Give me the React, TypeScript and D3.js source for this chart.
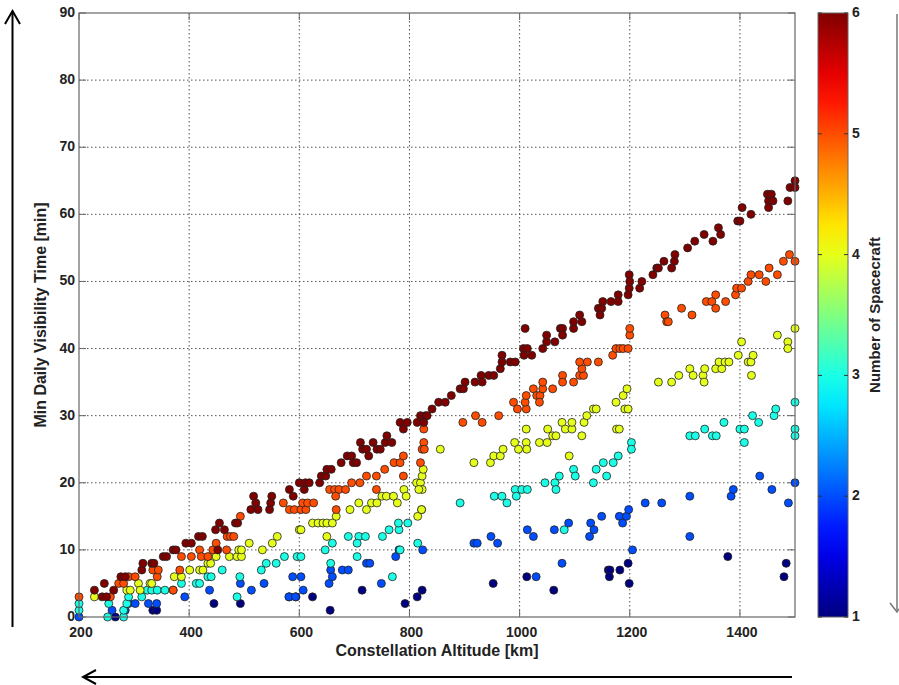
import React, { useRef, useEffect } from 'react';
import * as d3 from 'd3';

// [altitude km, min daily visibility min] for each number of spacecraft
const sc1: [number, number][] = [
  [266, 0], [334, 1], [341, 1], [445, 2], [493, 2], [582, 3], [594, 3], [624, 3], [656, 1], [714, 4],
  [792, 2], [814, 3], [823, 4], [952, 5], [1013, 6], [1062, 4], [1161, 7], [1164, 7], [1163, 6], [1182, 7],
  [1197, 8], [1199, 5], [1378, 9], [1484, 8], [1480, 6],
];
const sc2: [number, number][] = [
  [200, 0], [260, 1], [284, 1], [290, 2], [302, 2], [326, 2], [341, 2], [392, 3], [437, 4], [493, 5],
  [513, 4], [536, 5], [581, 3], [593, 3], [588, 6], [603, 6], [607, 4], [654, 5], [657, 7], [660, 6],
  [678, 7], [689, 7], [722, 8], [728, 8], [749, 5], [775, 9], [781, 10], [824, 10], [917, 11], [923, 11],
  [948, 12], [960, 11], [1014, 13], [1025, 12], [1030, 6], [1063, 13], [1077, 8], [1089, 14], [1129, 14], [1135, 13],
  [1127, 12], [1149, 15], [1181, 15], [1187, 14], [1194, 15], [1198, 16], [1205, 10], [1228, 17], [1258, 17], [1309, 18],
  [1309, 12], [1384, 18], [1388, 19], [1436, 21], [1458, 19], [1488, 17], [1500, 20],
];
const sc3: [number, number][] = [
  [200, 1], [200, 2], [252, 0], [254, 2], [281, 0], [281, 1], [287, 2], [290, 3], [314, 3], [324, 4],
  [332, 4], [342, 4], [356, 4], [371, 4], [386, 5], [413, 5], [419, 5], [434, 6], [440, 6], [460, 7],
  [487, 3], [492, 6], [531, 7], [540, 8], [558, 8], [573, 9], [596, 9], [603, 9], [647, 10], [660, 11],
  [657, 8], [689, 12], [708, 12], [720, 12], [705, 11], [705, 9], [751, 12], [763, 13], [781, 13], [780, 14],
  [797, 14], [783, 10], [769, 6], [815, 11], [822, 16], [892, 17], [954, 18], [968, 18], [977, 17], [992, 19],
  [994, 18], [1004, 19], [1014, 19], [1046, 20], [1064, 20], [1066, 19], [1072, 21], [1081, 13], [1098, 22], [1101, 21],
  [1134, 20], [1139, 22], [1152, 23], [1158, 21], [1170, 23], [1179, 24], [1203, 26], [1203, 25], [1309, 27], [1319, 27],
  [1336, 28], [1350, 27], [1357, 27], [1371, 29], [1400, 28], [1408, 28], [1408, 26], [1423, 30], [1434, 29], [1462, 30],
  [1465, 31], [1500, 32], [1500, 28], [1500, 27],
];
const sc4: [number, number][] = [
  [228, 3], [287, 4], [293, 4], [308, 5], [311, 4], [329, 5], [332, 5], [373, 6], [386, 6], [401, 7],
  [419, 7], [425, 7], [434, 8], [439, 8], [449, 9], [473, 9], [487, 9], [490, 10], [495, 9], [495, 10],
  [509, 11], [533, 10], [551, 11], [560, 12], [600, 13], [603, 13], [624, 14], [634, 14], [643, 14], [650, 14],
  [660, 14], [667, 15], [650, 12], [692, 16], [708, 17], [722, 16], [731, 17], [741, 17], [750, 18], [758, 18],
  [771, 18], [778, 17], [790, 19], [794, 18], [813, 20], [820, 20], [823, 21], [823, 19], [825, 22], [817, 19],
  [815, 15], [822, 16], [856, 25], [917, 23], [947, 23], [953, 24], [965, 24], [970, 25], [991, 26], [998, 25],
  [1012, 26], [1012, 28], [1013, 25], [1036, 26], [1050, 26], [1051, 28], [1060, 27], [1066, 27], [1077, 29], [1083, 28],
  [1090, 24], [1095, 28], [1095, 29], [1113, 27], [1117, 29], [1122, 30], [1134, 31], [1139, 31], [1175, 32], [1188, 33],
  [1191, 31], [1195, 34], [1176, 28], [1181, 28], [1197, 31], [1252, 35], [1276, 35], [1289, 36], [1309, 37], [1315, 36],
  [1333, 36], [1336, 37], [1335, 35], [1356, 37], [1367, 37], [1362, 38], [1373, 38], [1380, 38], [1397, 39], [1403, 41],
  [1415, 38], [1420, 38], [1424, 39], [1421, 36], [1468, 42], [1487, 41], [1487, 40], [1500, 43],
];
const sc5: [number, number][] = [
  [200, 3], [257, 3], [272, 5], [281, 5], [290, 6], [302, 6], [334, 7], [342, 6], [344, 7], [371, 4],
  [383, 7], [386, 9], [404, 9], [419, 10], [422, 9], [434, 9], [443, 10], [449, 11], [468, 10], [469, 12],
  [475, 12], [481, 12], [493, 15], [571, 17], [582, 16], [591, 16], [603, 16], [612, 16], [606, 17], [615, 17],
  [626, 17], [655, 19], [664, 19], [672, 19], [666, 18], [667, 16], [684, 19], [695, 20], [710, 20], [722, 21],
  [740, 19], [740, 21], [755, 22], [772, 23], [783, 23], [789, 24], [789, 21], [820, 23], [823, 25], [826, 26],
  [826, 28], [827, 25], [897, 29], [920, 30], [932, 29], [962, 30], [989, 32], [996, 31], [1012, 31], [1010, 32],
  [1012, 33], [1025, 34], [1031, 33], [1037, 33], [1036, 32], [1042, 34], [1042, 35], [1060, 34], [1078, 36], [1078, 35],
  [1098, 35], [1109, 36], [1116, 36], [1113, 37], [1109, 38], [1123, 38], [1143, 38], [1169, 39], [1175, 40], [1182, 40],
  [1188, 40], [1197, 40], [1200, 42], [1200, 43], [1264, 45], [1267, 44], [1270, 44], [1294, 46], [1313, 45], [1339, 47],
  [1356, 48], [1349, 47], [1356, 46], [1374, 47], [1392, 48], [1394, 49], [1403, 49], [1415, 50], [1420, 51], [1435, 51],
  [1447, 50], [1453, 52], [1468, 51], [1479, 53], [1490, 54], [1500, 53],
];
const sc6: [number, number][] = [
  [228, 4], [242, 3], [250, 3], [246, 5], [263, 4], [276, 6], [284, 6], [314, 7], [316, 8], [332, 8],
  [336, 8], [353, 9], [359, 9], [371, 10], [376, 10], [394, 11], [404, 11], [417, 12], [424, 12], [448, 13],
  [455, 14], [464, 13], [452, 10], [484, 14], [488, 14], [512, 16], [517, 18], [521, 17], [525, 16], [546, 16],
  [548, 17], [550, 18], [582, 19], [589, 18], [600, 20], [609, 19], [611, 20], [618, 20], [637, 20], [640, 21],
  [648, 21], [650, 22], [658, 22], [676, 23], [687, 24], [695, 24], [698, 23], [704, 23], [711, 26], [715, 25],
  [722, 25], [726, 24], [734, 26], [741, 25], [747, 25], [756, 26], [759, 27], [768, 26], [783, 29], [789, 28],
  [796, 29], [814, 29], [820, 30], [826, 29], [829, 30], [832, 30], [841, 31], [853, 32], [865, 32], [876, 33],
  [892, 34], [898, 34], [901, 35], [919, 35], [930, 36], [932, 35], [944, 36], [953, 36], [965, 37], [968, 38],
  [968, 39], [983, 38], [992, 38], [1007, 40], [1008, 39], [1010, 43], [1014, 40], [1022, 39], [1042, 40], [1049, 41],
  [1049, 42], [1064, 41], [1074, 43], [1078, 43], [1078, 42], [1098, 43], [1098, 44], [1109, 45], [1113, 44], [1143, 46],
  [1146, 45], [1149, 46], [1151, 47], [1166, 47], [1179, 48], [1179, 47], [1197, 48], [1199, 49], [1199, 51], [1200, 50],
  [1218, 49], [1222, 50], [1242, 51], [1249, 52], [1252, 52], [1262, 53], [1276, 52], [1281, 53], [1282, 54], [1305, 55],
  [1318, 56], [1335, 57], [1351, 56], [1361, 58], [1365, 57], [1396, 59], [1400, 59], [1404, 61], [1420, 60], [1450, 63],
  [1457, 63], [1452, 62], [1460, 62], [1452, 61], [1487, 62], [1491, 64], [1500, 65], [1500, 64],
];

const seriesList = [sc1, sc2, sc3, sc4, sc5, sc6];
const xTicks = [200, 400, 600, 800, 1000, 1200, 1400];
const yTicks = [0, 10, 20, 30, 40, 50, 60, 70, 80, 90];
const cbTicks = [1, 2, 3, 4, 5, 6];

// MATLAB-like jet colour map, t in [0,1]
const jet = (t: number) => {
  const c = (v: number) => Math.round(255 * Math.max(0, Math.min(1, v)));
  return d3.rgb(c(1.5 - Math.abs(4 * t - 3)), c(1.5 - Math.abs(4 * t - 2)), c(1.5 - Math.abs(4 * t - 1))).formatHex();
};

const App = () => {
  const svgRef = useRef<SVGSVGElement>(null);

  useEffect(() => {
    const svg = d3.select(svgRef.current);
    svg.selectAll('*').remove();
    const font = 'Liberation Sans, Arial, sans-serif';
    const left = 79, right = 795, top = 13, bottom = 617;

    const x = d3.scaleLinear().domain([200, 1500]).range([left, right]);
    const y = d3.scaleLinear().domain([0, 90]).range([bottom, top]);
    const color = d3.scaleLinear().domain([1, 6]).range([0, 1]);

    // grid
    const grid = svg.append('g').attr('stroke', '#555').attr('stroke-width', 1).attr('stroke-dasharray', '1.5,2.5');
    xTicks.filter(v => v > 200).forEach(v => {
      grid.append('line').attr('x1', x(v)).attr('x2', x(v)).attr('y1', top).attr('y2', bottom);
    });
    yTicks.filter(v => v > 0 && v < 90).forEach(v => {
      grid.append('line').attr('x1', left).attr('x2', right).attr('y1', y(v)).attr('y2', y(v));
    });

    // inward tick marks on all four sides
    const ticks = svg.append('g').attr('stroke', '#666').attr('stroke-width', 1);
    xTicks.forEach(v => {
      ticks.append('line').attr('x1', x(v)).attr('x2', x(v)).attr('y1', bottom).attr('y2', bottom - 7);
      ticks.append('line').attr('x1', x(v)).attr('x2', x(v)).attr('y1', top).attr('y2', top + 7);
    });
    yTicks.forEach(v => {
      ticks.append('line').attr('x1', left).attr('x2', left + 7).attr('y1', y(v)).attr('y2', y(v));
      ticks.append('line').attr('x1', right).attr('x2', right - 7).attr('y1', y(v)).attr('y2', y(v));
    });

    // points
    seriesList.forEach((pts, i) => {
      svg.append('g').selectAll('circle').data(pts).enter().append('circle')
        .attr('cx', d => x(d[0]))
        .attr('cy', d => y(d[1]))
        .attr('r', 4)
        .attr('fill', jet(color(i + 1)))
        .attr('stroke', '#222')
        .attr('stroke-width', 0.8);
    });

    // box
    svg.append('rect').attr('x', left).attr('y', top).attr('width', right - left).attr('height', bottom - top)
      .attr('fill', 'none').attr('stroke', '#666').attr('stroke-width', 1.2);

    // tick labels
    xTicks.forEach(v => {
      svg.append('text').attr('x', x(v) + 2).attr('y', 637).attr('text-anchor', 'middle')
        .style('font-family', font).style('font-size', '14px').style('font-weight', '700').attr('fill', '#222')
        .text(v);
    });
    yTicks.forEach(v => {
      svg.append('text').attr('x', left - 4).attr('y', y(v) + 4).attr('text-anchor', 'end')
        .style('font-family', font).style('font-size', '14px').style('font-weight', '700').attr('fill', '#222')
        .text(v);
    });

    svg.append('text').attr('x', 437).attr('y', 656).attr('text-anchor', 'middle')
      .style('font-family', font).style('font-size', '16px').style('font-weight', '700').attr('fill', '#222')
      .text('Constellation Altitude [km]');
    svg.append('text').attr('transform', `translate(46,${(top + bottom) / 2}) rotate(-90)`).attr('text-anchor', 'middle')
      .style('font-family', font).style('font-size', '16px').style('font-weight', '700').attr('fill', '#222')
      .text('Min Daily Visibility Time [min]');

    // colour bar
    const cbX = 818, cbW = 30;
    const cy = d3.scaleLinear().domain([1, 6]).range([bottom, top]);
    const grad = svg.append('defs').append('linearGradient').attr('id', 'jetbar')
      .attr('x1', 0).attr('y1', 1).attr('x2', 0).attr('y2', 0);
    d3.range(0, 1.0001, 0.05).forEach(t => {
      grad.append('stop').attr('offset', t).attr('stop-color', jet(t));
    });
    svg.append('rect').attr('x', cbX).attr('y', top).attr('width', cbW).attr('height', bottom - top)
      .attr('fill', 'url(#jetbar)').attr('stroke', '#666').attr('stroke-width', 1);
    cbTicks.forEach(v => {
      svg.append('line').attr('x1', cbX).attr('x2', cbX + 4).attr('y1', cy(v)).attr('y2', cy(v)).attr('stroke', '#333');
      svg.append('line').attr('x1', cbX + cbW).attr('x2', cbX + cbW - 4).attr('y1', cy(v)).attr('y2', cy(v)).attr('stroke', '#333');
      svg.append('text').attr('x', cbX + cbW + 4).attr('y', cy(v) + 4).attr('text-anchor', 'start')
        .style('font-family', font).style('font-size', '14px').style('font-weight', '700').attr('fill', '#222')
        .text(v);
    });
    svg.append('text').attr('transform', `translate(880,${(top + bottom) / 2}) rotate(-90)`).attr('text-anchor', 'middle')
      .style('font-family', font).style('font-size', '15px').style('font-weight', '700').attr('fill', '#222')
      .text('Number of Spacecraft');

    // arrows drawn around the figure
    const arrows = svg.append('g').attr('fill', 'none').attr('stroke', '#000').attr('stroke-width', 2);
    arrows.append('line').attr('x1', 12.5).attr('x2', 12.5).attr('y1', 627).attr('y2', 11);
    arrows.append('polyline').attr('points', '5,24 12.5,11 20,24');
    arrows.append('line').attr('x1', 792).attr('x2', 83).attr('y1', 677).attr('y2', 677);
    arrows.append('polyline').attr('points', '96,670 83,677 96,684');
    const rightArrow = svg.append('g').attr('fill', 'none').attr('stroke', '#777').attr('stroke-width', 1.5);
    rightArrow.append('line').attr('x1', 897).attr('x2', 897).attr('y1', 14).attr('y2', 610);
    rightArrow.append('polyline').attr('points', '890,603 897,612 899,609');
  }, []);

  return (
    <svg ref={svgRef} width={899} height={685}
      style={{ position: 'absolute', left: 0, top: 0, background: '#fff' }} />
  );
};

export default App;
